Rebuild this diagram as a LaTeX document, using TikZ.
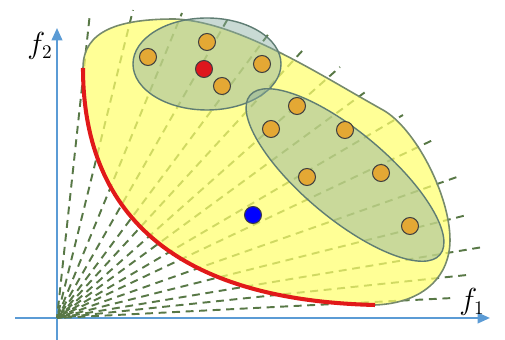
\documentclass[tikz,border=0pt]{standalone}
\usepackage{amsmath}
\usepackage{tikz}
\usetikzlibrary{arrows.meta, positioning, calc}

\definecolor{axisblue}{RGB}{91,155,213}
\definecolor{raygreen}{RGB}{88,120,70}
\definecolor{frontred}{RGB}{225,25,25}
\definecolor{regionyellow}{RGB}{255,255,110}
\definecolor{edgegray}{RGB}{118,138,108}
\definecolor{clustergreen}{RGB}{135,172,160}
\definecolor{clusteredge}{RGB}{95,125,115}
\definecolor{dotorange}{RGB}{228,168,52}

\begin{document}
\begin{tikzpicture}[x=0.02cm, y=-0.02cm,
    ray/.style={raygreen, line width=1.1pt, dash pattern=on 4.5pt off 3.2pt},
    axis/.style={axisblue, line width=1.2pt},
    cluster/.style={fill=clustergreen, fill opacity=0.45, draw=clusteredge, line width=0.8pt},
    sol/.style={draw=black!75, line width=0.6pt, fill=dotorange}]
  \useasboundingbox (0,0) rectangle (505,340);
  \coordinate (O) at (57,318);

  % axes
  \draw[axis] (O) -- (57,340);
  \draw[axis] (O) -- (15,318);
  \draw[axis, -{Triangle[length=7pt,width=6pt]}] (O) -- (57,28);
  \draw[axis, -{Triangle[length=7pt,width=6pt]}] (O) -- (490,318);
  \node[font=\fontsize{16}{16}\selectfont] (f2) at (40,46) {$f_2$};
  \node[font=\fontsize{16}{16}\selectfont] (f1) at (472,302) {$f_1$};

  % weight rays
  \foreach \ex/\ey [count=\k] in {90/13, 133/10, 182/13, 230/15, 270/32, 303/50, 340/67,
                       368/90, 403/115, 433/140, 457/177, 467/215, 483/247,
                       467/275, 453/298}
    \draw[ray, dash phase=\k*2.3pt] (O) -- (\ex,\ey);

  % objective region
  \fill[regionyellow, fill opacity=0.72]
    (83,68) .. controls (83,30) and (120,19) .. (175,19)
    .. controls (240,22) and (320,75) .. (383,110)
    .. controls (415,128) and (450,195) .. (450,240)
    .. controls (450,275) and (425,303) .. (375,305)
    .. controls (170,300) and (83,210) .. (83,68) -- cycle;
  \draw[edgegray, line width=0.9pt]
    (83,68) .. controls (83,30) and (120,19) .. (175,19)
    .. controls (240,22) and (320,75) .. (383,110)
    .. controls (415,128) and (450,195) .. (450,240)
    .. controls (450,275) and (425,303) .. (375,305);
  % front
  \draw[frontred, line width=2.3pt]
    (83,68) .. controls (83,210) and (170,300) .. (375,305);

  % clusters
  \draw[cluster] (207,64) ellipse[x radius=74, y radius=46];
  \draw[cluster, rotate around={-40:(345,175)}]
    (345,175) ellipse[x radius=124, y radius=43];

  % solutions
  \foreach \px/\py in {207/42, 148/57, 222/86, 262/64,
                       297/106, 271/129, 345/130, 307/177, 381/173, 410/226}
    \draw[sol] (\px,\py) circle[radius=8.5];
  \draw[sol, fill=frontred!90!purple] (204,69) circle[radius=8.5];
  \draw[sol, fill=blue] (253,215) circle[radius=8.5];
\end{tikzpicture}
\end{document}
